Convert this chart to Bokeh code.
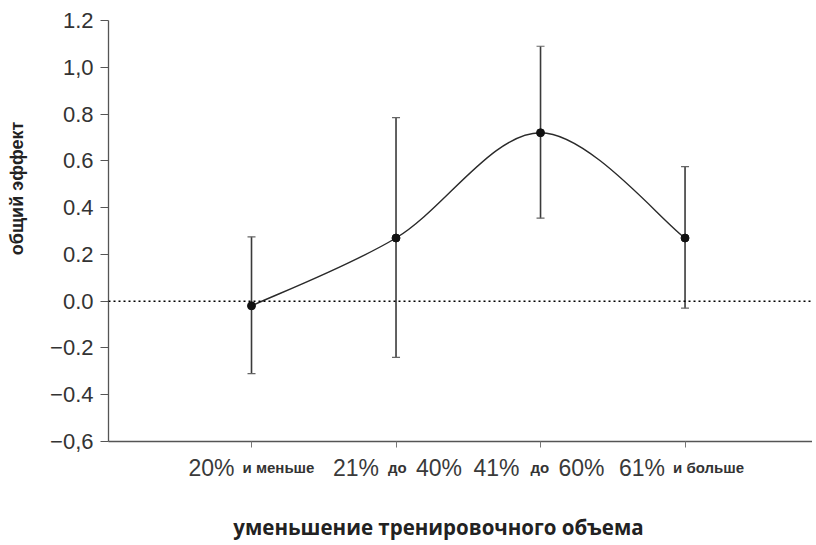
import math
from bokeh.plotting import figure
from bokeh.layouts import row, column
from bokeh.models import (ColumnDataSource, Whisker, TeeHead, Span,
                          FixedTicker, Range1d)
from bokeh.core.properties import value
from bokeh.embed import file_html
from bokeh.resources import INLINE

# ---- data ----
categories = ["20% и меньше", "21% до 40%", "41% до 60%", "61% и больше"]
cat_pos = [1, 2, 3, 4]
effect = [-0.02, 0.27, 0.72, 0.27]
ci_low = [-0.31, -0.24, 0.355, -0.03]
ci_high = [0.275, 0.785, 1.09, 0.575]
y_ticks = [-0.6, -0.4, -0.2, 0.0, 0.2, 0.4, 0.6, 0.8, 1.0, 1.2]
y_tick_labels = ["−0,6", "−0.4", "−0.2", "0.0", "0.2", "0.4", "0.6", "0.8", "1,0", "1.2"]
# tick label parts: (text, is_small_word)
label_parts = [
    [("20%", False), ("и меньше", True)],
    [("21%", False), ("до", True), ("40%", False)],
    [("41%", False), ("до", True), ("60%", False)],
    [("61%", False), ("и больше", True)],
]
y_title = "общий эффект"
x_title = "уменьшение тренировочного объема"

# ---- layout/style ----
part_offsets = [[-63, -9], [-63, -8, 20], [-67, -10, 18], [-66, -12]]
X0, X1 = 0.0104, 4.882
LEFT_W, MAIN_W = 30, 782
MAIN_H, BOT_H = 455, 90
TOTAL_H = MAIN_H + BOT_H

xr = Range1d(X0, X1)

def blank(fig):
    fig.outline_line_color = None
    fig.background_fill_color = "white"
    fig.border_fill_color = "white"
    fig.xgrid.visible = False
    fig.ygrid.visible = False

# ---- main plot ----
p = figure(width=MAIN_W, height=MAIN_H, output_backend="svg", toolbar_location=None,
           x_range=xr, y_range=Range1d(-0.6, 1.2),
           min_border_left=78, min_border_right=0, min_border_top=20,
           min_border_bottom=14)
blank(p)

p.yaxis.ticker = FixedTicker(ticks=y_ticks)
p.yaxis.major_label_overrides = {t: s for t, s in zip(y_ticks, y_tick_labels)}
p.yaxis.major_label_text_font = "Liberation Sans"
p.yaxis.major_label_text_font_size = "22px"
p.yaxis.major_label_text_color = "#333333"
p.yaxis.major_tick_out = 8
p.yaxis.major_tick_in = 0
p.yaxis.minor_tick_line_color = None
p.yaxis.axis_line_color = "#555555"
p.yaxis.major_tick_line_color = "#555555"
p.yaxis.axis_line_width = 1.3
p.yaxis.major_label_standoff = 7

p.xaxis.ticker = FixedTicker(ticks=cat_pos)
p.xaxis.major_label_overrides = {c: "" for c in cat_pos}
p.xaxis.major_label_text_font_size = "1px"
p.xaxis.major_label_standoff = 0
p.xaxis.major_tick_out = 6
p.xaxis.major_tick_in = 0
p.xaxis.minor_tick_line_color = None
p.xaxis.axis_line_color = "#555555"
p.xaxis.major_tick_line_color = "#777777"
p.xaxis.axis_line_width = 1.3

# zero line
p.add_layout(Span(location=0, dimension="width", line_color="black",
                  line_width=1.5, line_dash="2 3"))

# smooth curve (Catmull-Rom style bezier through the points)
n = len(cat_pos)
bx0, by0, bx1, by1, cx0, cy0, cx1, cy1 = [], [], [], [], [], [], [], []
for i in range(n - 1):
    pa = (cat_pos[max(i - 1, 0)], effect[max(i - 1, 0)])
    p1 = (cat_pos[i], effect[i])
    p2 = (cat_pos[i + 1], effect[i + 1])
    pb = (cat_pos[min(i + 2, n - 1)], effect[min(i + 2, n - 1)])
    bx0.append(p1[0]); by0.append(p1[1])
    bx1.append(p2[0]); by1.append(p2[1])
    cx0.append(p1[0] + (p2[0] - pa[0]) / 6); cy0.append(p1[1] + (p2[1] - pa[1]) / 6)
    cx1.append(p2[0] - (pb[0] - p1[0]) / 6); cy1.append(p2[1] - (pb[1] - p1[1]) / 6)
p.bezier(x0=bx0, y0=by0, x1=bx1, y1=by1, cx0=cx0, cy0=cy0, cx1=cx1, cy1=cy1,
         line_color="#2a2a2a", line_width=1.4)

# error bars
src = ColumnDataSource(dict(x=cat_pos, y=effect, lo=ci_low, hi=ci_high))
p.add_layout(Whisker(source=src, base="x", lower="lo", upper="hi",
                     line_color="#3a3a3a", line_width=1.6,
                     lower_head=TeeHead(size=8, line_color="#666666", line_width=1.2),
                     upper_head=TeeHead(size=8, line_color="#666666", line_width=1.2)))
p.scatter("x", "y", source=src, size=8, color="#111111")

# ---- bottom strip: category labels + x title (shares x range) ----
b = figure(width=MAIN_W, height=BOT_H, output_backend="svg", toolbar_location=None,
           x_range=xr, y_range=Range1d(0, BOT_H), x_axis_location=None,
           y_axis_location=None, min_border_left=78, min_border_right=0,
           min_border_top=0, min_border_bottom=0)
blank(b)
lx, ltxt, loff, lsize, lstyle, lcol = [], [], [], [], [], []
for ci, parts in enumerate(label_parts):
    for (txt, small), off in zip(parts, part_offsets[ci]):
        lx.append(cat_pos[ci]); ltxt.append(txt); loff.append(off)
        lsize.append("15px" if small else "23px")
        lstyle.append("bold" if small else "normal")
        lcol.append("#333333" if small else "#3a3a3a")
lsrc = ColumnDataSource(dict(x=lx, y=[78] * len(lx), text=ltxt, off=loff,
                             size=lsize, style=lstyle, col=lcol))
b.text(x="x", y="y", text="text", x_offset="off", source=lsrc,
       text_align="left", text_baseline="alphabetic",
       text_font=value("Liberation Sans"), text_font_size="size",
       text_font_style="style", text_color="col")
b.text(x=[2.294], y=[19], text=[x_title], text_align="center",
       text_baseline="alphabetic", text_font=value("Open Sans"),
       text_font_size=value("20.5px"), text_font_style="bold",
       text_color="#222222")

# ---- left strip: y title ----
l = figure(width=LEFT_W, height=TOTAL_H, output_backend="svg", toolbar_location=None,
           x_range=Range1d(0, LEFT_W), y_range=Range1d(0, TOTAL_H),
           x_axis_location=None, y_axis_location=None,
           min_border_left=0, min_border_right=0, min_border_top=0,
           min_border_bottom=0)
blank(l)
l.text(x=[16], y=[TOTAL_H - 188], text=[y_title], angle=math.pi / 2,
       text_align="center", text_baseline="middle",
       text_font=value("Liberation Sans"), text_font_size=value("18px"),
       text_font_style="bold", text_color="#222222")

layout = row(l, column(p, b, spacing=0), spacing=0)
open("out.html", "w").write(file_html(layout, INLINE))
